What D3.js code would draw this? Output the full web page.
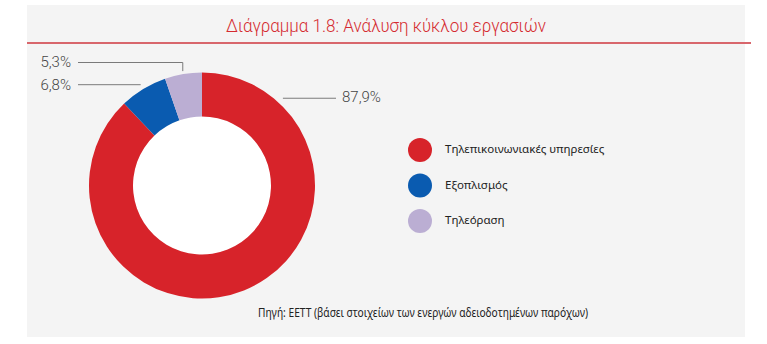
<!DOCTYPE html>
<html>
<head>
<meta charset="utf-8">
<script src="https://cdn.jsdelivr.net/npm/d3@7"></script>
<style>
  html, body { margin: 0; padding: 0; background: #ffffff; }
  svg { display: block; }
</style>
</head>
<body>
<svg id="chart" width="767" height="344"></svg>
<script>
// Revenue breakdown by business line (%)
const categories = ["Τηλεπικοινωνιακές υπηρεσίες", "Εξοπλισμός", "Τηλεόραση"];
const shares = [87.9, 6.8, 5.3];
const colors = ["#d7232a", "#0a5bb0", "#bbaed3"];
const valueLabels = ["87,9%", "6,8%", "5,3%"];

const titleText = "Διάγραμμα 1.8: Ανάλυση κύκλου εργασιών";
const sourceText = "Πηγή: ΕΕΤΤ (βάσει στοιχείων των ενεργών αδειοδοτημένων παρόχων)";

const svg = d3.select("#chart");

// Panel background and header rule
svg.append("rect")
  .attr("x", 27).attr("y", 5).attr("width", 718).attr("height", 332)
  .attr("fill", "#f4f4f4");
svg.append("line")
  .attr("x1", 27).attr("x2", 751).attr("y1", 43).attr("y2", 43)
  .attr("stroke", "#d8666c").attr("stroke-width", 2);

svg.append("text")
  .attr("x", 386).attr("y", 32)
  .attr("text-anchor", "middle")
  .attr("font-family", "Roboto, sans-serif")
  .attr("font-weight", 300)
  .attr("font-size", 18)
  .attr("textLength", 320)
  .attr("lengthAdjust", "spacingAndGlyphs")
  .attr("fill", "#d52b30")
  .text(titleText);

// Donut
const cx = 202, cy = 185.5, outerR = 113, innerR = 69;
const g = svg.append("g").attr("transform", `translate(${cx},${cy})`);

const pie = d3.pie().sort(null).value(d => d);
const arcs = pie(shares);
const arc = d3.arc().innerRadius(innerR).outerRadius(outerR);

g.append("circle").attr("r", innerR).attr("fill", "#ffffff");
g.selectAll("path.slice")
  .data(arcs)
  .join("path")
  .attr("class", "slice")
  .attr("d", arc)
  .attr("fill", (d, i) => colors[i]);

// Value labels with leader lines
const mid = d => (d.startAngle + d.endAngle) / 2;
const polar = (a, r) => [cx + r * Math.sin(a), cy - r * Math.cos(a)];
const leader = svg.append("g")
  .attr("fill", "none").attr("stroke", "#7a7a7a").attr("stroke-width", 1);
const labelFont = { family: "Roboto, sans-serif", size: 15, weight: 300, color: "#444" };

function addLabel(x, y, anchor, text) {
  svg.append("text")
    .attr("x", x).attr("y", y)
    .attr("text-anchor", anchor)
    .attr("dominant-baseline", "middle")
    .attr("font-family", labelFont.family)
    .attr("font-weight", labelFont.weight)
    .attr("font-size", labelFont.size)
    .attr("fill", labelFont.color)
    .text(text);
}

// Τηλεπικοινωνιακές υπηρεσίες: label to the upper right
{
  const p = polar(Math.PI * 0.238, 119);
  leader.append("path").attr("d", d3.line()([p, [336, p[1]]]));
  addLabel(342, p[1], "start", valueLabels[0]);
}
// Εξοπλισμός: horizontal leader to the slice
{
  const p = polar(mid(arcs[1]), 118);
  leader.append("path").attr("d", d3.line()([[78, p[1]], p]));
  addLabel(71, p[1] + 1, "end", valueLabels[1]);
}
// Τηλεόραση: elbow leader dropping onto the slice
{
  const p = polar(mid(arcs[2]), 116);
  const rowY = 62.5;
  leader.append("path").attr("d", d3.line()([[78, rowY], [p[0], rowY], p]));
  addLabel(71, rowY + 0.5, "end", valueLabels[2]);
}

// Legend
const legend = svg.append("g").attr("transform", "translate(420,150)");
const item = legend.selectAll("g")
  .data(categories)
  .join("g")
  .attr("transform", (d, i) => `translate(0,${i * 35.5})`);
item.append("circle").attr("r", 12).attr("fill", (d, i) => colors[i]);
item.append("text")
  .attr("x", 25).attr("y", 0)
  .attr("dominant-baseline", "middle")
  .attr("font-family", "'Noto Sans', sans-serif")
  .attr("font-size", 11.5)
  .attr("fill", "#222")
  .text(d => d);

// Source note
svg.append("text")
  .attr("x", 423).attr("y", 317)
  .attr("text-anchor", "middle")
  .attr("font-family", "'Noto Sans', sans-serif")
  .attr("font-size", 12.3)
  .attr("textLength", 330)
  .attr("lengthAdjust", "spacingAndGlyphs")
  .attr("fill", "#222")
  .text(sourceText);
</script>
</body>
</html>
